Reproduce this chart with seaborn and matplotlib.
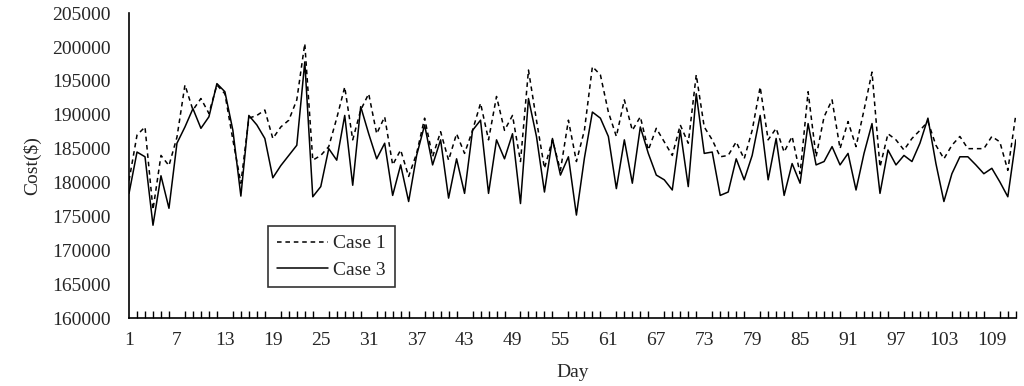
import matplotlib
matplotlib.use("Agg")
import matplotlib.pyplot as plt
import matplotlib.ticker as mticker
import pandas as pd
import seaborn as sns

days = list(range(1, 113))

case1 = [
    180300, 187000, 188200, 176000, 184000, 182500, 186700, 194400, 190700, 192400,
    190200, 194400, 193100, 186300, 179900, 189500, 189900, 190700, 186500, 188200,
    189200, 192200, 200500, 183300, 184000, 185300, 189500, 194100, 186300, 190700,
    193100, 187200, 189700, 182600, 184800, 180900, 184300, 189500, 183800, 187500,
    183300, 187200, 184300, 187700, 191700, 186300, 192700, 187700, 189900, 183100,
    196600, 189200, 182100, 186300, 181800, 189200, 183100, 187700, 197100, 195900,
    190400, 186800, 192200, 187700, 189700, 184800, 188000, 186000, 184000, 188500,
    185800, 195900, 188200, 186300, 183800, 184000, 186000, 183500, 187700, 194100,
    186300, 188000, 184500, 186800, 181300, 193400, 183800, 189700, 192200, 185000,
    189000, 185300, 190700, 196300, 182300, 187200, 186300, 184800, 186500, 187700,
    189000, 185500, 183500, 185500, 186800, 185000, 185000, 185000, 186800, 186000,
    181800, 190000,
]

case3 = [
    178400, 184500, 183800, 173700, 181000, 176200, 185800, 188200, 190900, 188000,
    189700, 194600, 193400, 187700, 178000, 189900, 188500, 186500, 180700, 182500,
    184000, 185500, 197800, 177900, 179400, 185000, 183300, 189900, 179600, 191200,
    187200, 183500, 185800, 178100, 182600, 177200, 184000, 188500, 182600, 186300,
    177700, 183500, 178400, 187700, 189200, 178400, 186300, 183500, 187200, 176900,
    192400, 186800, 178600, 186500, 181100, 183800, 175200, 183600, 190400, 189500,
    186800, 179100, 186300, 179900, 188200, 184300, 181100, 180400, 178900, 187700,
    179400, 193100, 184300, 184500, 178100, 178600, 183500, 180400, 184000, 189900,
    180400, 186500, 178100, 182800, 179900, 188700, 182600, 183100, 185300, 182600,
    184300, 178900, 184300, 188700, 178400, 184800, 182600, 184000, 183100, 185800,
    189500, 182800, 177200, 181300, 183800, 183800, 182600, 181300, 182100, 180100,
    177900, 186300,
]

xtick_days = list(range(1, 110, 6))
yticks = list(range(160000, 205001, 5000))

df = pd.DataFrame({"Day": days, "Case 1": case1, "Case 3": case3})

sns.set_style("white")
plt.rcParams["font.family"] = ["Liberation Serif", "DejaVu Serif"]

fig = plt.figure(figsize=(10.24, 3.86), dpi=100)
ax = fig.add_axes([0.126, 0.176, 0.866, 0.790])

sns.lineplot(data=df, x="Day", y="Case 1", ax=ax, color="black",
             linewidth=1.1, label="Case 1")
ax.lines[-1].set_dashes([3, 2.5])
sns.lineplot(data=df, x="Day", y="Case 3", ax=ax, color="black",
             linewidth=1.1, label="Case 3")

ax.set_xlim(1, 112)
ax.set_ylim(160000, 205000)
ax.set_yticks(yticks)
ax.set_xticks(xtick_days)
ax.xaxis.set_minor_locator(mticker.MultipleLocator(1))
ax.tick_params(axis="x", which="both", direction="in", length=5, width=1,
               labelsize=14, pad=10, color="black")
ax.tick_params(axis="y", direction="in", length=4, width=1, labelsize=14,
               pad=13, color="black")
ax.tick_params(axis="x", which="minor", bottom=True)

for side in ["top", "right"]:
    ax.spines[side].set_visible(False)
for side in ["left", "bottom"]:
    ax.spines[side].set_color("black")
    ax.spines[side].set_linewidth(1.2)

ax.set_xlabel("Day", fontsize=14, labelpad=11)
ax.set_ylabel("Cost($)", fontsize=14, labelpad=8)

leg = ax.legend(loc="upper left", bbox_to_anchor=(0.157, 0.302), fontsize=14,
                frameon=True, fancybox=False, edgecolor="black",
                borderaxespad=0, handlelength=2.6, handletextpad=0.3,
                borderpad=0.45, labelspacing=0.45)
leg.get_frame().set_linewidth(1.2)

fig.savefig("out.png", dpi=100)
